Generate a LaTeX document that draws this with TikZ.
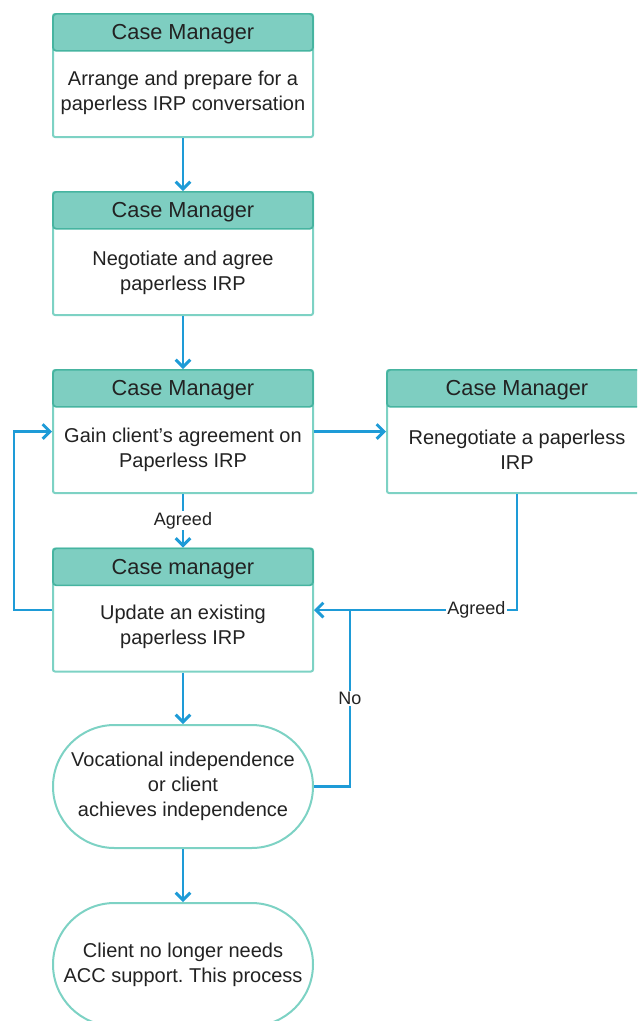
\documentclass[tikz,border=0pt]{standalone}
\usepackage{fontspec}
\setmainfont{Liberation Sans}
\usetikzlibrary{arrows.meta,shapes.misc}
\definecolor{hdrfill}{RGB}{126,206,193}
\definecolor{hdrline}{RGB}{70,180,160}
\definecolor{boxline}{RGB}{125,210,196}
\definecolor{arrowc}{RGB}{30,155,215}
\definecolor{txt}{RGB}{34,34,34}
\tikzset{
  outer/.style={draw=boxline, line width=1.5pt, fill=white, rounded corners=1.5pt,
    minimum width=195pt, minimum height=92.25pt, inner sep=0pt},
  hdr/.style={draw=hdrline, line width=1.3pt, fill=hdrfill, rounded corners=2.5pt,
    minimum width=195pt, minimum height=27.75pt, inner sep=0pt, text depth=0pt,
    font=\fontsize{16.3}{19}\selectfont, text=txt},
  bodytext/.style={align=center, font=\fontsize{15}{18.75}\selectfont, text=txt, inner sep=0pt},
  stadium/.style={draw=boxline, line width=1.5pt, fill=white, rounded rectangle,
    rounded rectangle arc length=180, minimum width=195pt, minimum height=92.25pt,
    align=center, font=\fontsize{15}{18.75}\selectfont, text=txt, inner sep=0pt},
  conn/.style={draw=arrowc, line width=2.2pt, -{Straight Barb[length=5.5pt,width=11pt]}},
  lbl/.style={fill=white, inner sep=1pt, font=\fontsize{13.5}{15}\selectfont, text=txt}
}
\begin{document}
\frenchspacing
\begin{tikzpicture}[x=0.75pt,y=-0.75pt]
\useasboundingbox (0,0) rectangle (637,1021);
\clip (0,0) rectangle (637,1021);
% box 1
\node[outer] (b1) at (183,75.5) {};
\node[hdr, anchor=north] (h1) at (b1.north) {Case Manager};
\node[bodytext] (t1) at (183,92.5) {Arrange and prepare for a\\paperless IRP conversation};
% box 2
\node[outer] (b2) at (183,253.5) {};
\node[hdr, anchor=north] (h2) at (b2.north) {Case Manager};
\node[bodytext] (t2) at (183,272.5) {Negotiate and agree\\paperless IRP};
% box 3
\node[outer] (b3) at (183,431.5) {};
\node[hdr, anchor=north] (h3) at (b3.north) {Case Manager};
\node[bodytext] (t3) at (183,449.5) {Gain client’s agreement on\\Paperless IRP};
% box 4
\node[outer] (b4) at (517,431.5) {};
\node[hdr, anchor=north] (h4) at (b4.north) {Case Manager};
\node[bodytext] (t4) at (517,449.5) {Renegotiate a paperless\\IRP};
% box 5
\node[outer] (b5) at (183,610) {};
\node[hdr, anchor=north] (h5) at (b5.north) {Case manager};
\node[bodytext] (t5) at (183,626.5) {Update an existing\\paperless IRP};
% stadiums
\node[stadium] (s1) at (183,786.5) {Vocational independence\\or client\\achieves independence};
\node[stadium] (s2) at (183,964.5) {Client no longer needs\\ACC support. This process};
% connectors
\draw[conn] (b1.south) -- (b2.north);
\draw[conn] (b2.south) -- (b3.north);
\draw[conn] (b3.south) -- node[lbl] {Agreed} (b5.north);
\draw[conn] (b3.east) -- (b4.west);
\draw[conn] (b4.south) |- node[lbl, pos=0.6] {Agreed} (b5.east);
\draw[conn] (b5.west) -- ++(-38,0) |- (b3.west);
\draw[conn] (b5.south) -- (s1.north);
\coordinate (j) at (350,610);
\draw[draw=arrowc, line width=2.2pt] (s1.east) -| node[lbl, pos=0.75] {No} (j);
\draw[conn] (s1.south) -- (s2.north);
\end{tikzpicture}
\end{document}
